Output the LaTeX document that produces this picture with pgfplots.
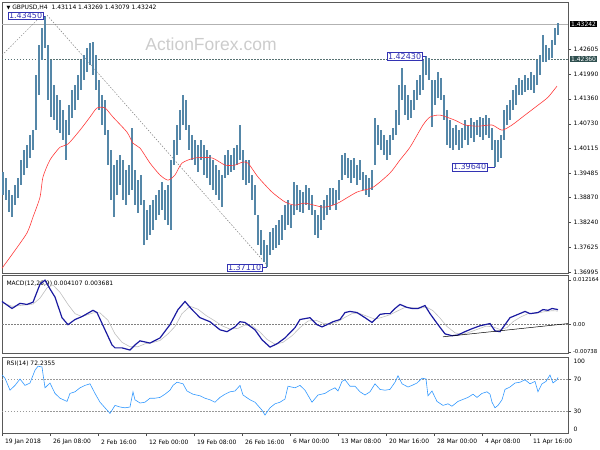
\documentclass[border=0pt]{standalone}
\usepackage{fontspec}
\setmainfont{DejaVu Sans}
\newfontfamily\wmfont{Liberation Sans}
\usepackage{pgfplots}
\usepackage{pgfplotstable}
\pgfplotsset{compat=1.18}

\definecolor{barc}{HTML}{5587A8}
\definecolor{mac}{HTML}{FF3B3B}
\definecolor{macdc}{HTML}{1A1AA0}
\definecolor{rsic}{HTML}{3399FF}
\definecolor{lblc}{HTML}{3333B3}
\definecolor{tagc}{HTML}{2F4F4F}
\newcommand\sz{\fontsize{6}{7}\selectfont}
\newcommand\bz{\fontsize{8}{9}\selectfont}

% H4 bars: x (px position), high, low
\pgfplotstableread{
x h l
3 1.3951 1.3893
6 1.3936 1.3881
9 1.3906 1.3850
12 1.3893 1.3838
15 1.3919 1.3868
18 1.3936 1.3886
21 1.3982 1.3919
24 1.4007 1.3944
27 1.4019 1.3961
30 1.4045 1.3987
33 1.4057 1.4007
36 1.4196 1.4057
39 1.4271 1.4145
42 1.4314 1.4234
45 1.4345 1.4264
48 1.4271 1.4133
51 1.4234 1.4090
54 1.4171 1.4082
57 1.4145 1.4057
60 1.4133 1.4050
63 1.4108 1.4032
66 1.4082 1.3982
69 1.4120 1.4045
72 1.4158 1.4087
75 1.4171 1.4108
78 1.4196 1.4133
81 1.4234 1.4158
84 1.4246 1.4183
87 1.4264 1.4203
90 1.4276 1.4221
93 1.4279 1.4196
96 1.4246 1.4158
99 1.4183 1.4108
102 1.4145 1.4070
105 1.4133 1.4045
108 1.4057 1.3969
111 1.4007 1.3881
114 1.3969 1.3838
117 1.3982 1.3893
120 1.3994 1.3919
123 1.3982 1.3881
126 1.3956 1.3868
129 1.3969 1.3893
132 1.4062 1.3906
135 1.3956 1.3868
138 1.3931 1.3848
141 1.3944 1.3868
144 1.3881 1.3767
147 1.3856 1.3780
150 1.3868 1.3793
153 1.3881 1.3805
156 1.3893 1.3830
159 1.3906 1.3843
162 1.3926 1.3856
165 1.3906 1.3830
168 1.3919 1.3818
171 1.3982 1.3805
174 1.4032 1.3969
177 1.4070 1.3994
180 1.4108 1.4032
183 1.4145 1.4070
186 1.4133 1.4057
189 1.4070 1.4007
192 1.4045 1.3982
195 1.4032 1.3969
198 1.4019 1.3951
201 1.4032 1.3982
204 1.4019 1.3944
207 1.4007 1.3936
210 1.3994 1.3919
213 1.3982 1.3906
216 1.3969 1.3893
219 1.3956 1.3881
222 1.3944 1.3863
225 1.3994 1.3936
228 1.4007 1.3944
231 1.3994 1.3951
234 1.4012 1.3956
237 1.4019 1.3969
240 1.4070 1.3982
243 1.4007 1.3931
246 1.3982 1.3919
249 1.3982 1.3924
252 1.3944 1.3881
255 1.3919 1.3843
258 1.3843 1.3767
261 1.3805 1.3742
264 1.3780 1.3724
267 1.3767 1.3711
270 1.3800 1.3742
273 1.3810 1.3755
276 1.3818 1.3760
279 1.3830 1.3767
282 1.3843 1.3780
285 1.3868 1.3805
288 1.3881 1.3818
291 1.3868 1.3810
294 1.3926 1.3843
297 1.3919 1.3856
300 1.3906 1.3850
303 1.3901 1.3848
306 1.3919 1.3868
309 1.3911 1.3856
312 1.3893 1.3843
315 1.3856 1.3793
318 1.3843 1.3785
321 1.3868 1.3805
324 1.3881 1.3830
327 1.3893 1.3843
330 1.3911 1.3856
333 1.3911 1.3868
336 1.3906 1.3856
339 1.3931 1.3881
342 1.3994 1.3931
345 1.3999 1.3944
348 1.3987 1.3936
351 1.3982 1.3924
354 1.3987 1.3936
357 1.3969 1.3919
360 1.3982 1.3931
363 1.3951 1.3906
366 1.3944 1.3893
369 1.3936 1.3888
372 1.3956 1.3906
375 1.4087 1.3969
378 1.4070 1.4019
381 1.4057 1.4007
384 1.4045 1.3994
387 1.4032 1.3982
390 1.4045 1.3994
393 1.4062 1.4032
396 1.4108 1.4045
399 1.4171 1.4070
402 1.4213 1.4133
405 1.4171 1.4095
408 1.4145 1.4082
411 1.4133 1.4087
414 1.4158 1.4108
417 1.4183 1.4133
420 1.4196 1.4145
423 1.4234 1.4158
426 1.4243 1.4196
429 1.4239 1.4183
432 1.4183 1.4065
435 1.4183 1.4120
438 1.4203 1.4138
441 1.4188 1.4133
444 1.4145 1.4082
447 1.4108 1.4019
450 1.4082 1.4012
453 1.4062 1.4007
456 1.4070 1.4019
459 1.4057 1.4007
462 1.4062 1.4012
465 1.4082 1.4032
468 1.4070 1.4019
471 1.4087 1.4037
474 1.4077 1.4027
477 1.4082 1.4045
480 1.4090 1.4039
483 1.4087 1.4032
486 1.4095 1.4045
489 1.4087 1.4037
492 1.4062 1.4007
495 1.4032 1.3964
498 1.4032 1.3976
501 1.4045 1.3987
504 1.4108 1.4032
507 1.4120 1.4070
510 1.4133 1.4082
513 1.4158 1.4108
516 1.4171 1.4120
519 1.4188 1.4145
522 1.4183 1.4145
525 1.4196 1.4153
528 1.4188 1.4158
531 1.4203 1.4158
534 1.4196 1.4150
537 1.4234 1.4171
540 1.4246 1.4196
543 1.4297 1.4228
546 1.4271 1.4228
549 1.4264 1.4234
552 1.4284 1.4239
555 1.4314 1.4271
558 1.4327 1.4297
}\bars

% moving average
\pgfplotstableread{
x p
2 1.3709
13 1.3747
27 1.3798
33 1.3838
40 1.3888
43 1.3939
50 1.3982
60 1.4014
68 1.4022
80 1.4057
90 1.4090
97 1.4113
105 1.4113
113 1.4090
127 1.4052
133 1.4024
140 1.4012
150 1.3974
160 1.3944
168 1.3931
175 1.3944
182 1.3974
195 1.3987
212 1.3987
225 1.3969
235 1.3969
242 1.3976
248 1.3974
258 1.3939
272 1.3901
285 1.3876
295 1.3868
305 1.3873
323 1.3863
333 1.3868
340 1.3876
357 1.3901
373 1.3913
390 1.3949
400 1.3982
410 1.4014
423 1.4070
430 1.4090
440 1.4095
455 1.4082
465 1.4070
478 1.4067
492 1.4070
502 1.4057
512 1.4070
525 1.4095
538 1.4120
548 1.4140
557 1.4168
}\ma

\begin{document}
\begin{tikzpicture}
\path[use as bounding box] (0,0) rectangle (600pt,-450pt);

% ---------- price panel ----------
\begin{axis}[
    at={(2pt,-2pt)}, anchor=north west,
    scale only axis, width=566pt, height=271pt,
    xmin=2, xmax=568, ymin=1.3697, ymax=1.4380,
    axis line style={black!65, line width=0.8pt},
    xtick=\empty,
    ytick pos=right, tick align=outside, major tick length=3pt,
    tick style={black!70, line width=0.4pt},
    ytick={1.42605,1.41990,1.41360,1.40730,1.40115,1.39485,1.38870,1.38240,1.37625,1.36995},
    yticklabels={1.42605,1.41990,1.41360,1.40730,1.40115,1.39485,1.38870,1.38240,1.37625,1.36995},
    yticklabel style={font=\sz, anchor=west, xshift=-1pt},
    clip=false,
]
\node[font=\wmfont\fontsize{17.5}{18}\selectfont, text=black!20] at (211,1.4274) {ActionForex.com};
\node[font=\sz, anchor=west] at (3,1.4365) {\fontsize{5}{6}\selectfont▼\sz\ GBPUSD,H4\ \ 1.43114 1.43269 1.43079 1.43242};

\addplot[black!30, line width=0.5pt] coordinates {(2,1.43242) (568,1.43242)};
\addplot[tagc!80, line width=0.5pt, dash pattern=on 1.5pt off 1.5pt] coordinates {(2,1.42360) (568,1.42360)};
\addplot[black!50, line width=0.5pt, dash pattern=on 1.5pt off 1.5pt] coordinates {(2,1.4246) (42,1.4347)};
\addplot[black!50, line width=0.5pt, dash pattern=on 1.5pt off 1.5pt] coordinates {(47,1.4347) (267,1.3717)};

\addplot[draw=none, mark=none, error bars/.cd, y dir=both, y explicit, error mark=none,
    error bar style={draw=barc, line width=1.5pt}]
    table[x=x, y expr=(\thisrow{h}+\thisrow{l})/2, y error expr=(\thisrow{h}-\thisrow{l})/2] {\bars};
\addplot[mac, line width=0.6pt, smooth, tension=0.4] table[x=x, y=p] {\ma};

\addplot[lblc, line width=0.5pt] coordinates {(43,1.4345) (45,1.4345)};
\addplot[lblc, line width=0.5pt] coordinates {(422,1.4243) (426,1.4243)};
\addplot[lblc, line width=0.5pt] coordinates {(487,1.3964) (495,1.3964)};
\addplot[lblc, line width=0.5pt] coordinates {(262,1.3711) (267,1.3711)};
\node[draw=lblc, text=lblc, fill=white, anchor=east, inner sep=0.7pt, font=\bz] at (43,1.4345) {1.43450};
\node[draw=lblc, text=lblc, fill=white, anchor=east, inner sep=0.7pt, font=\bz] at (422,1.4243) {1.42430};
\node[draw=lblc, text=lblc, fill=white, anchor=east, inner sep=0.7pt, font=\bz] at (487,1.3964) {1.39640};
\node[draw=lblc, text=lblc, fill=white, anchor=east, inner sep=0.7pt, font=\bz] at (262,1.3711) {1.37110};

\node[fill=black, text=white, anchor=west, inner sep=1pt, font=\sz] at (570,1.43242) {1.43242};
\node[fill=tagc, text=white, anchor=west, inner sep=1pt, font=\sz] at (570,1.42360) {1.42360};
\end{axis}

% ---------- MACD panel ----------
\begin{axis}[
    at={(2pt,-275pt)}, anchor=north west,
    scale only axis, width=566pt, height=78pt,
    xmin=2, xmax=568, ymin=-0.0077, ymax=0.0135,
    axis line style={black!65, line width=0.8pt},
    xtick=\empty,
    ytick pos=right, tick align=outside, major tick length=3pt,
    tick style={black!70, line width=0.4pt},
    ytick={-0.00738,0,0.012164},
    yticklabels={-0.00738,0.00,0.012164},
    yticklabel style={font=\fontsize{5.4}{6}\selectfont, anchor=west, xshift=-1.5pt},
    scaled y ticks=false,
    clip=false,
]
\node[font=\sz, anchor=west] at (3,0.0111) {MACD(12,26,9) 0.004107 0.003681};
\addplot[black!50, line width=0.5pt, dash pattern=on 1.5pt off 1.5pt] coordinates {(2,0) (568,0)};
\addplot[black!25, line width=0.6pt] coordinates {
(2,0.0060)(12,0.0050)(20,0.0052)(27,0.0054)(33,0.0056)(40,0.0072)(47,0.0100)(53,0.0108)
(60,0.0088)(68,0.0055)(75,0.0030)(82,0.0022)(93,0.0032)(100,0.0032)(108,0.0012)(115,-0.0025)
(122,-0.0048)(130,-0.0060)(138,-0.0060)(145,-0.0052)(152,-0.0049)(160,-0.0043)(168,-0.0025)
(175,-0.0005)(182,0.0030)(190,0.0050)(198,0.0042)(206,0.0025)(215,0.0010)(222,-0.0003)
(230,-0.0012)(238,-0.0010)(245,-0.0001)(252,-0.0003)(260,-0.0020)(267,-0.0040)(275,-0.0053)
(283,-0.0048)(292,-0.0030)(300,-0.0008)(308,0.0010)(316,0.0012)(323,0.0004)(330,0.0002)
(337,0.0007)(345,0.0020)(352,0.0030)(360,0.0030)(368,0.0022)(375,0.0015)(382,0.0020)
(390,0.0027)(398,0.0038)(405,0.0047)(412,0.0046)(420,0.0045)(427,0.0047)(433,0.0038)
(440,0.0018)(447,-0.0005)(455,-0.0022)(462,-0.0027)(470,-0.0020)(478,-0.0012)(486,-0.0004)
(493,-0.0006)(500,-0.0013)(507,-0.0008)(513,0.0008)(520,0.0020)(528,0.0030)(536,0.0031)
(544,0.0035)(552,0.0038)(558,0.0037)};
\addplot[macdc, line width=1.2pt] coordinates {
(2,0.0063)(12,0.0044)(20,0.0058)(27,0.0055)(33,0.0061)(40,0.0110)(45,0.0121)(50,0.0097)
(55,0.0075)(62,0.0019)(68,0.0000)(75,0.0014)(82,0.0022)(93,0.0039)(97,0.0033)(105,-0.0014)
(112,-0.0055)(115,-0.0063)(122,-0.0063)(130,-0.0069)(135,-0.0055)(140,-0.0044)(145,-0.0047)
(150,-0.0050)(160,-0.0036)(170,0.0000)(178,0.0041)(185,0.0063)(192,0.0041)(200,0.0019)
(210,0.0008)(220,-0.0014)(227,-0.0019)(235,-0.0006)(240,0.0008)(245,0.0006)(255,-0.0014)
(262,-0.0041)(270,-0.0061)(277,-0.0052)(285,-0.0036)(295,-0.0008)(300,0.0014)(310,0.0019)
(317,0.0000)(322,-0.0006)(327,0.0000)(333,0.0008)(340,0.0014)(345,0.0033)(350,0.0036)
(357,0.0033)(365,0.0019)(372,0.0006)(377,0.0019)(380,0.0028)(385,0.0030)(390,0.0030)
(395,0.0044)(400,0.0055)(407,0.0047)(412,0.0044)(418,0.0044)(425,0.0052)(430,0.0030)
(438,0.0000)(445,-0.0025)(452,-0.0030)(458,-0.0028)(465,-0.0019)(472,-0.0011)(480,-0.0003)
(490,0.0003)(495,-0.0017)(500,-0.0019)(505,0.0000)(510,0.0019)(518,0.0028)(525,0.0036)
(530,0.0030)(538,0.0033)(543,0.0041)(548,0.0039)(552,0.0044)(558,0.0041)};
\addplot[black, line width=0.5pt] coordinates {(443,-0.0033) (568,0.0003)};
\end{axis}

% ---------- RSI panel ----------
\begin{axis}[
    at={(2pt,-357pt)}, anchor=north west,
    scale only axis, width=566pt, height=76pt,
    xmin=2, xmax=568, ymin=2.5, ymax=97.5,
    axis line style={black!65, line width=0.8pt},
    xtick pos=bottom, ytick pos=right, tick align=outside, major tick length=3pt,
    tick style={black!70, line width=0.4pt},
    xtick={2,50,98,146,194,242,290,338,386,434,482,530},
    xticklabels={19 Jan 2018,26 Jan 08:00,2 Feb 16:00,12 Feb 00:00,19 Feb 08:00,26 Feb 16:00,6 Mar 00:00,13 Mar 08:00,20 Mar 16:00,28 Mar 00:00,4 Apr 08:00,11 Apr 16:00},
    xticklabel style={font=\sz, anchor=north west, xshift=-0.5pt},
    ytick={30,70}, yticklabels={30,70},
    yticklabel style={font=\sz, anchor=west, xshift=-1pt},
    clip=false,
]
\node[font=\sz, anchor=west] at (3,89) {RSI(14) 72.2355};
\node[font=\sz, anchor=west] at (570,92.5) {100};
\node[font=\sz, anchor=west] at (570,7.5) {0};
\addplot[black!40, line width=0.5pt, dash pattern=on 1.5pt off 1.5pt] coordinates {(2,70) (568,70)};
\addplot[black!40, line width=0.5pt, dash pattern=on 1.5pt off 1.5pt] coordinates {(2,30) (568,30)};
\addplot[rsic, line width=0.6pt] coordinates {
(2,75)(5,71)(10,56)(15,62)(20,70)(25,62)(30,65)(35,81)(38,86)(42,85)(45,59)(50,65)(55,52)
(60,46)(67,42)(70,52)(75,54)(80,59)(85,62)(90,64)(95,52)(100,41)(105,34)(110,27)(115,37)
(120,35)(125,34)(130,35)(133,54)(135,44)(140,40)(145,41)(150,46)(155,46)(160,47)(165,51)
(170,56)(173,62)(177,66)(183,64)(187,55)(193,51)(200,49)(205,46)(210,44)(215,41)(220,47)
(225,51)(230,54)(235,55)(240,62)(243,50)(250,44)(255,41)(262,31)(265,25)(270,34)(275,39)
(280,41)(285,45)(288,61)(295,59)(300,62)(305,56)(312,41)(318,50)(325,52)(330,56)(335,59)
(338,55)(342,67)(345,69)(350,61)(355,61)(360,54)(365,50)(370,54)(375,64)(380,57)(385,56)
(390,57)(395,66)(398,74)(402,64)(408,60)(412,62)(417,65)(422,71)(426,70)(428,49)(432,55)
(437,42)(443,37)(448,39)(452,36)(458,42)(462,44)(468,47)(473,51)(477,47)(482,52)(487,54)
(490,51)(492,41)(495,34)(498,37)(502,44)(505,57)(510,60)(515,65)(520,66)(525,69)(530,64)
(535,67)(538,54)(542,64)(546,67)(550,75)(553,65)(557,69)(558,72)};
\end{axis}
\end{tikzpicture}
\end{document}
